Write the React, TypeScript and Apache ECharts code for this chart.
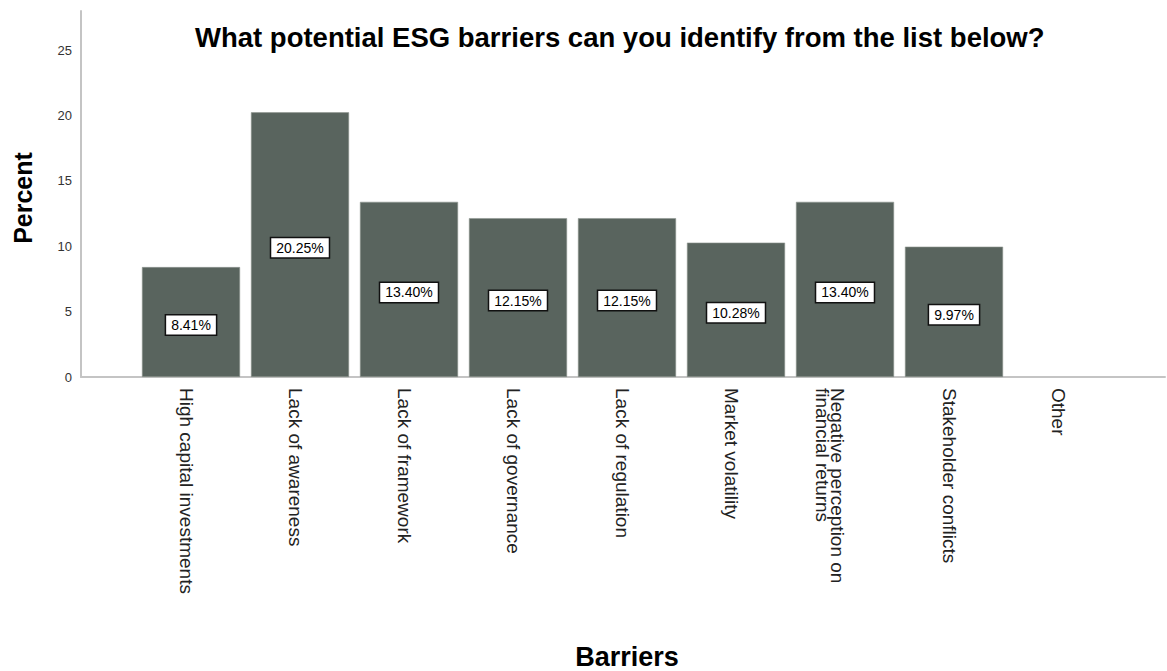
import React, { useEffect, useRef } from "react";
import * as echarts from "echarts";

const titleText = "What potential ESG barriers can you identify from the list below?";
const categories = [
  "High capital investments",
  "Lack of awareness",
  "Lack of framework",
  "Lack of governance",
  "Lack of regulation",
  "Market volatility",
  "Negative perception on\nfinancial returns",
  "Stakeholder conflicts",
  "Other",
];
const percents = [8.41, 20.25, 13.4, 12.15, 12.15, 10.28, 13.4, 9.97, 0];
const yTicks = [0, 5, 10, 15, 20, 25];
const yMax = 28;

const FONT = "'Liberation Sans', Arial, sans-serif";

export default function App() {
  const ref = useRef<HTMLDivElement>(null);
  useEffect(() => {
    if (!ref.current) return;
    const chart = echarts.init(ref.current, undefined, { renderer: "svg" });
    const data = percents.map((v) =>
      v > 0
        ? { value: v }
        : { value: v, label: { show: false }, itemStyle: { borderWidth: 0, opacity: 0 } }
    );
    const catData = categories.map((c) =>
      c.includes("\n")
        ? { value: c, textStyle: { lineHeight: 15, verticalAlign: "top" } }
        : { value: c }
    );
    chart.setOption({
      animation: false,
      backgroundColor: "#fff",
      textStyle: { fontFamily: FONT },
      title: {
        text: titleText,
        left: 190,
        top: 18,
        textStyle: { fontSize: 27.5, fontWeight: "bold", color: "#000", fontFamily: FONT },
      },
      graphic: [
        {
          type: "text",
          x: 22.5,
          y: 198,
          rotation: Math.PI / 2,
          style: {
            text: "Percent",
            fontSize: 25,
            fontWeight: "bold",
            fill: "#000",
            fontFamily: FONT,
            textAlign: "center",
            textVerticalAlign: "middle",
          },
        },
      ],
      grid: [
        { left: 81, right: 2, top: 11, bottom: 294, outerBoundsMode: "none" },
        { left: 136.5, width: 981, top: 11, bottom: 294, outerBoundsMode: "none" },
      ],
      xAxis: [
        {
          gridIndex: 0,
          type: "value",
          min: 0,
          max: 1,
          axisLine: { show: true, lineStyle: { color: "#c4c4c4", width: 2 } },
          axisTick: { show: false },
          axisLabel: { show: false },
          splitLine: { show: false },
        },
        {
          gridIndex: 1,
          type: "category",
          data: catData,
          axisLine: { show: false },
          axisTick: { show: false },
          axisLabel: {
            rotate: -90,
            interval: 0,
            fontSize: 19,
            color: "#222",
            margin: 11,
            lineHeight: 10,
            verticalAlign: "top",
            fontFamily: FONT,
          },
          name: "Barriers",
          nameLocation: "middle",
          nameGap: 266,
          nameTextStyle: { fontSize: 27, fontWeight: "bold", color: "#000", fontFamily: FONT },
        },
      ],
      yAxis: [
        {
          gridIndex: 0,
          type: "value",
          min: 0,
          max: yMax,
          interval: 5,
          axisLine: { show: true, lineStyle: { color: "#c4c4c4", width: 2 } },
          axisTick: { show: false },
          splitLine: { show: false },
          axisLabel: {
            fontSize: 13,
            color: "#333",
            margin: 9,
            padding: [5, 0, 0, 0],
            fontFamily: FONT,
            formatter: (v: number) => (yTicks.includes(v) ? String(v) : ""),
          },
        },
        {
          gridIndex: 1,
          type: "value",
          min: 0,
          max: yMax,
          show: false,
          splitLine: { show: false },
        },
      ],
      series: [
        {
          type: "bar",
          xAxisIndex: 1,
          yAxisIndex: 1,
          data,
          barCategoryGap: "10%",
          itemStyle: { color: "#59645e", borderColor: "#8e9591", borderWidth: 0.6 },
          label: {
            show: true,
            position: "inside",
            offset: [0, 3],
            formatter: (p: any) => Number(p.value).toFixed(2) + "%",
            backgroundColor: "#fff",
            borderColor: "#111",
            borderWidth: 1.5,
            padding: [3, 5, 2, 5],
            fontSize: 14,
            color: "#000",
            fontFamily: FONT,
          },
        },
      ],
    });
    return () => chart.dispose();
  }, []);
  return (
    <div
      ref={ref}
      style={{ position: "absolute", left: 0, top: 0, width: 1167, height: 671 }}
    />
  );
}
